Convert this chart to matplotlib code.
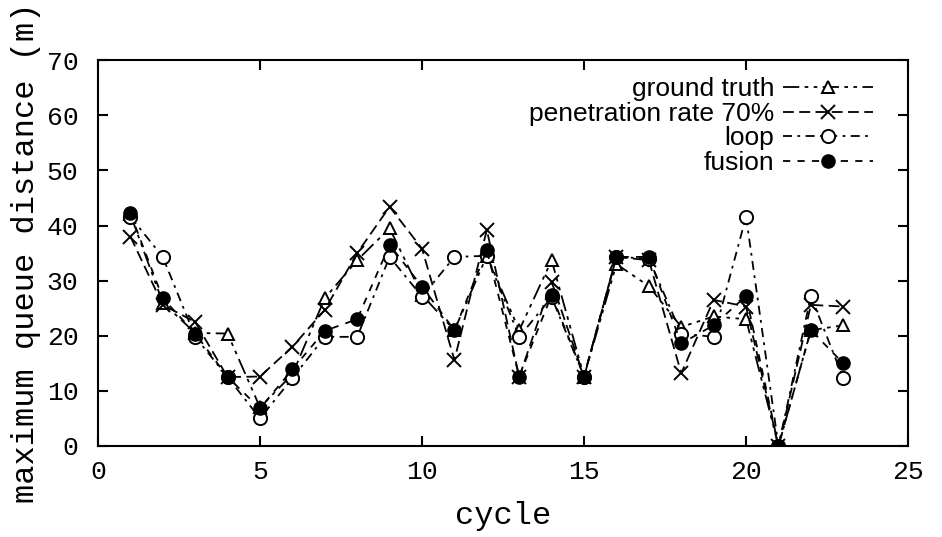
import matplotlib
matplotlib.use("Agg")
import matplotlib.pyplot as plt

cycles = list(range(1, 24))
ground_truth = [42.0, 26.0, 20.5, 20.4, 7.0, 13.0, 26.8, 33.7, 39.5, 27.4, 21.0, 34.5,
                21.0, 33.7, 12.6, 33.0, 29.0, 21.6, 23.5, 23.0, 0.0, 21.0, 21.9]
penetration_70 = [38.0, 25.6, 22.5, 12.5, 12.6, 18.0, 24.7, 35.0, 43.4, 35.8, 15.6, 39.2,
                  12.5, 29.8, 12.6, 34.3, 33.7, 13.2, 26.5, 25.3, 0.0, 25.6, 25.3]
loop = [41.6, 34.3, 19.8, 12.5, 5.0, 12.3, 19.8, 19.8, 34.3, 27.1, 34.3, 34.5,
        19.8, 27.0, 12.6, 34.3, 34.0, 20.4, 19.8, 41.6, 0.0, 27.2, 12.3]
fusion = [42.2, 26.8, 20.4, 12.5, 6.8, 13.9, 20.9, 23.0, 36.5, 28.9, 21.0, 35.5,
          12.6, 27.4, 12.6, 34.3, 34.3, 18.6, 21.9, 27.2, 0.0, 21.0, 15.0]

labels = ["ground truth", "penetration rate 70%", "loop", "fusion"]
xticks = [0, 5, 10, 15, 20, 25]
yticks = [0, 10, 20, 30, 40, 50, 60, 70]

mono = "Liberation Mono"
sans = "Liberation Sans"

fig = plt.figure(figsize=(9.42, 5.37), dpi=100)
ax = fig.add_axes([0.104, 0.1695, 0.860, 0.7185])

lw = 1.3
ax.plot(cycles, ground_truth, color="black", lw=lw, linestyle=(0, (9, 3, 2, 3, 2, 3)),
        marker="^", markersize=8.5, markerfacecolor="white", markeredgecolor="black",
        markeredgewidth=1.4, label=labels[0])
ax.plot(cycles, penetration_70, color="black", lw=lw, linestyle=(0, (6, 3)),
        marker="x", markersize=10, markeredgewidth=1.4, label=labels[1])
ax.plot(cycles, loop, color="black", lw=lw, linestyle=(0, (5, 3, 1.5, 3)),
        marker="o", markersize=9.5, markerfacecolor="white", markeredgecolor="black",
        markeredgewidth=1.4, label=labels[2])
ax.plot(cycles, fusion, color="black", lw=lw, linestyle=(0, (4, 4)),
        marker="o", markersize=9.5, markerfacecolor="black", markeredgecolor="black",
        label=labels[3])

ax.set_xlim(0, 25)
ax.set_ylim(0, 70)
ax.set_xticks(xticks)
ax.set_yticks(yticks)
ax.tick_params(direction="in", length=7, width=1.5, top=True, right=True,
               labelsize=19)
ax.tick_params(axis="y", pad=14)
ax.tick_params(axis="x", pad=10)
for lab in ax.get_xticklabels() + ax.get_yticklabels():
    lab.set_fontfamily(mono)
for s in ax.spines.values():
    s.set_linewidth(1.5)

ax.set_xlabel("cycle", fontfamily=mono, fontsize=23, labelpad=12)
ax.set_ylabel("maximum queue distance (m)", fontfamily=mono, fontsize=23, labelpad=4)

leg = ax.legend(loc="upper right", bbox_to_anchor=(0.978, 1.0), frameon=False,
                markerfirst=False, prop={"family": sans, "size": 19},
                handlelength=3.4, labelspacing=0.02, handletextpad=0.35,
                borderaxespad=0.25)

fig.savefig("out.png", dpi=100)
